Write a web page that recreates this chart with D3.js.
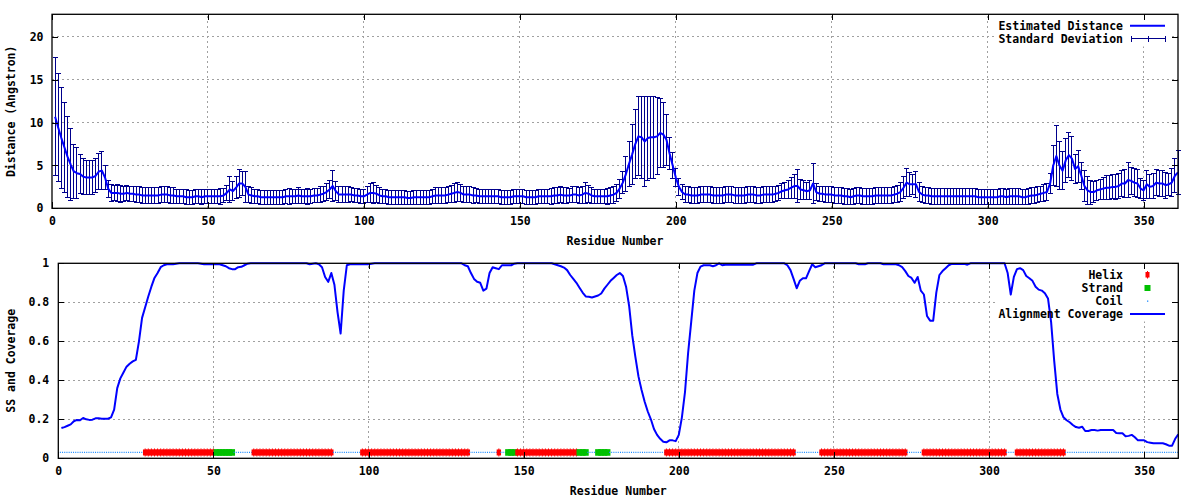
<!DOCTYPE html>
<html><head><meta charset="utf-8">
<script src="https://cdn.jsdelivr.net/npm/d3@7/dist/d3.min.js"></script>
<style>
body{margin:0;background:#fff}
text{font-family:"DejaVu Sans Mono","Liberation Mono",monospace;font-weight:bold;font-size:11.5px;fill:#000}
</style>
</head><body>
<svg id="c" width="1200" height="500"></svg>
<script>
// ---- data (residues 1..361) ----
const distance = [
10.7,9.4,8.2,7.1,6.0,5.1,4.3,4.1,4.0,3.7,
3.6,3.6,3.6,3.8,4.3,4.4,3.6,2.3,1.8,1.8,
1.8,1.7,1.7,1.8,1.7,1.7,1.6,1.6,1.5,1.5,
1.5,1.5,1.5,1.5,1.6,1.6,1.6,1.5,1.5,1.4,
1.4,1.4,1.3,1.3,1.3,1.4,1.4,1.3,1.4,1.4,
1.4,1.4,1.4,1.4,1.5,1.8,2.2,2.0,2.4,2.9,
2.9,2.5,1.6,1.5,1.4,1.4,1.3,1.3,1.3,1.3,
1.3,1.3,1.3,1.3,1.4,1.4,1.4,1.4,1.5,1.4,
1.4,1.4,1.4,1.5,1.5,1.6,1.7,1.9,2.2,2.6,
2.0,1.6,1.6,1.6,1.6,1.6,1.5,1.5,1.4,1.4,
1.6,1.8,1.8,1.7,1.5,1.4,1.4,1.3,1.3,1.3,
1.3,1.3,1.3,1.2,1.2,1.3,1.3,1.3,1.3,1.3,
1.3,1.4,1.5,1.5,1.5,1.5,1.6,1.7,1.8,1.9,
1.8,1.6,1.6,1.6,1.5,1.5,1.4,1.4,1.4,1.4,
1.4,1.4,1.4,1.3,1.3,1.3,1.3,1.4,1.4,1.4,
1.4,1.3,1.3,1.3,1.3,1.4,1.4,1.4,1.4,1.4,
1.5,1.5,1.6,1.5,1.5,1.5,1.6,1.6,1.5,1.6,
1.8,1.7,1.5,1.4,1.4,1.4,1.4,1.4,1.5,1.6,
1.8,2.3,3.0,4.0,5.2,6.3,7.5,8.4,8.3,7.8,
8.2,8.3,8.3,8.4,8.8,8.6,8.0,6.4,5.0,3.6,
2.5,1.9,1.6,1.6,1.5,1.5,1.5,1.6,1.6,1.6,
1.6,1.5,1.5,1.5,1.5,1.6,1.6,1.6,1.5,1.5,
1.5,1.5,1.6,1.6,1.6,1.5,1.5,1.6,1.6,1.6,
1.6,1.7,1.8,2.0,2.1,2.2,2.4,2.6,2.6,2.2,
2.1,2.0,2.1,2.9,1.9,1.7,1.7,1.6,1.6,1.6,
1.5,1.5,1.5,1.4,1.4,1.3,1.4,1.5,1.5,1.4,
1.4,1.4,1.4,1.5,1.5,1.5,1.5,1.5,1.5,1.6,
1.7,1.9,2.4,3.0,2.8,2.8,2.8,1.9,1.6,1.5,
1.5,1.4,1.4,1.4,1.4,1.4,1.4,1.4,1.4,1.4,
1.4,1.4,1.4,1.4,1.4,1.4,1.3,1.3,1.3,1.3,
1.3,1.3,1.3,1.4,1.4,1.3,1.4,1.4,1.4,1.4,
1.3,1.3,1.4,1.5,1.5,1.6,1.7,1.8,1.9,2.9,
5.0,6.1,5.0,4.4,5.6,6.2,5.8,4.6,4.9,3.8,
2.6,2.1,1.9,1.9,2.1,2.2,2.3,2.4,2.4,2.5,
2.5,2.6,2.9,2.9,3.3,3.2,3.0,2.9,2.3,2.1,
2.8,2.5,2.6,3.0,2.9,2.9,2.7,2.8,3.0,3.8,4.2
];
const stdDev = [
6.9,6.3,5.9,5.2,4.7,4.2,3.2,3.0,2.3,2.1,
2.0,2.0,2.0,2.0,2.1,2.2,1.4,1.0,1.0,0.9,
1.0,1.0,0.9,0.9,0.9,0.9,0.9,0.9,0.9,0.9,
0.9,0.9,0.9,0.9,0.9,0.9,0.9,0.9,0.9,0.8,
0.8,0.8,0.9,0.8,0.8,0.8,0.8,0.9,0.8,0.8,
0.8,0.8,0.8,0.9,0.8,0.9,1.5,1.1,1.3,1.6,
1.4,1.8,0.9,0.9,0.8,0.8,0.8,0.8,0.8,0.8,
0.8,0.8,0.8,0.8,0.8,0.9,0.8,0.8,0.9,0.8,
0.8,0.9,0.8,0.8,0.8,0.9,0.9,1.0,1.1,1.8,
1.1,0.9,0.9,0.9,0.9,0.8,0.8,0.8,0.8,0.8,
0.9,1.1,1.2,1.0,0.9,0.8,0.8,0.8,0.8,0.8,
0.8,0.8,0.8,0.8,0.8,0.8,0.8,0.8,0.8,0.8,
0.8,0.8,0.9,0.9,0.9,0.9,0.9,1.0,1.1,1.1,
1.0,0.9,0.9,0.9,0.9,0.8,0.8,0.8,0.8,0.8,
0.8,0.8,0.8,0.8,0.8,0.8,0.8,0.8,0.8,0.8,
0.8,0.8,0.8,0.8,0.8,0.8,0.8,0.8,0.8,0.9,
0.9,0.9,0.9,0.9,0.9,0.8,0.9,0.9,0.9,1.0,
1.2,1.0,0.9,0.8,0.8,0.8,0.8,0.9,0.9,1.0,
1.0,1.1,1.3,2.0,2.6,3.5,4.0,4.6,4.8,5.2,
4.9,4.8,4.8,4.5,4.0,3.8,3.0,1.9,1.5,1.0,
1.0,0.9,0.9,0.9,0.9,0.9,0.9,0.9,0.9,0.9,
0.9,0.9,0.9,0.9,0.9,0.9,0.9,0.9,0.9,0.9,
0.9,0.9,0.9,0.9,0.9,0.9,0.9,0.9,0.9,0.9,
0.9,0.9,0.9,0.9,0.9,1.0,1.2,1.4,1.9,1.2,
1.1,1.0,1.1,2.3,1.0,0.9,0.9,0.9,0.9,0.9,
0.9,0.9,0.9,0.9,0.9,0.9,0.9,0.9,0.9,0.9,
0.9,0.9,0.9,0.9,0.9,0.9,0.9,0.9,0.9,0.9,
1.0,1.1,1.3,1.6,1.4,1.2,1.5,1.1,0.9,0.9,
0.9,0.9,0.9,0.9,0.9,0.9,0.9,0.9,0.9,0.9,
0.9,0.9,0.9,0.9,0.9,0.9,0.9,0.9,0.9,0.9,
0.9,0.9,0.9,0.9,0.9,0.9,0.9,0.9,0.9,0.9,
0.9,0.9,0.9,0.9,0.9,0.9,0.9,1.0,1.0,1.2,
2.3,3.6,2.8,2.2,2.6,2.6,2.6,1.7,1.9,1.6,
1.8,1.6,1.4,1.2,1.2,1.2,1.3,1.4,1.4,1.4,
1.5,1.5,1.5,1.6,2.0,1.6,1.6,1.6,1.2,1.2,
1.6,1.4,1.5,1.5,1.5,1.5,1.5,1.3,1.6,2.0,2.6
];
const coverage = [
0.155,0.16,0.167,0.174,0.19,0.197,0.195,0.207,0.2,0.197,
0.198,0.205,0.205,0.203,0.203,0.203,0.21,0.25,0.36,0.41,
0.44,0.47,0.485,0.497,0.505,0.6,0.72,0.775,0.83,0.88,
0.925,0.95,0.98,0.99,0.995,0.995,0.995,0.998,1,1,
1,1,1,1,1,0.998,0.995,0.995,0.995,0.995,
0.995,0.995,0.99,0.985,0.975,0.97,0.97,0.98,0.982,0.99,
0.998,1,1,1,1,1,1,1,1,1,
1,1,1,1,1,1,1,1,1,1,
0.995,0.998,1,0.995,0.98,0.93,0.905,0.95,0.89,0.75,
0.64,0.86,0.99,0.995,0.995,0.995,0.995,0.995,0.995,0.995,
0.998,1,1,1,1,1,1,1,1,1,
1,1,1,1,1,1,1,1,1,1,
1,1,1,1,1,1,1,1,1,1,
0.99,0.985,0.95,0.92,0.905,0.9,0.86,0.87,0.95,0.98,
0.975,0.97,0.99,0.99,0.99,0.99,0.998,1,1,1,
1,1,1,1,1,1,1,1,1,0.995,
0.99,0.985,0.978,0.965,0.94,0.92,0.9,0.875,0.85,0.83,
0.828,0.825,0.83,0.835,0.845,0.87,0.89,0.91,0.925,0.94,
0.95,0.935,0.88,0.78,0.63,0.52,0.42,0.35,0.29,0.24,
0.2,0.15,0.12,0.1,0.085,0.082,0.092,0.092,0.088,0.12,
0.21,0.34,0.54,0.7,0.86,0.95,0.983,0.99,0.99,0.99,
0.985,0.99,1,0.99,0.993,0.993,0.993,0.993,0.993,0.993,
0.993,0.993,0.993,0.993,1,1,1,1,1,1,
1,1,1,1,0.99,0.965,0.92,0.872,0.91,0.923,
0.923,0.96,0.995,0.98,0.985,0.99,1,1,1,1,
1,1,1,1,1,1,1,0.995,0.995,0.995,
1,1,1,1,1,0.995,0.995,0.995,0.995,0.995,
0.99,0.98,0.96,0.935,0.925,0.9,0.93,0.86,0.84,0.73,
0.706,0.706,0.85,0.94,0.96,0.975,0.99,0.997,0.997,0.997,
0.997,0.997,0.993,1,1,1,1,1,1,1,
1,1,1,1,1,0.95,0.84,0.93,0.97,0.975,
0.965,0.935,0.923,0.91,0.88,0.865,0.86,0.846,0.82,0.7,
0.5,0.33,0.25,0.21,0.195,0.185,0.171,0.16,0.157,0.162,
0.14,0.14,0.145,0.145,0.142,0.145,0.145,0.145,0.145,0.145,
0.13,0.128,0.128,0.113,0.115,0.12,0.108,0.092,0.092,0.092,
0.083,0.08,0.077,0.077,0.077,0.077,0.072,0.065,0.065,0.1,0.123
];
// secondary structure: [type, first residue, last residue]
const ssSegments = [
["C",1,27],["H",28,50],["E",51,56],["C",57,62],["H",63,88],["C",89,97],
["H",98,132],["C",133,141],["H",142,142],["C",143,144],["E",145,147],
["H",148,167],["E",168,170],["C",171,173],["E",174,177],["C",178,195],
["H",196,237],["C",238,245],["H",246,273],["C",274,278],["H",279,305],
["C",306,308],["H",309,324],["C",325,361]
];
const ssLevel = 0.03;
const xTicks = [0,50,100,150,200,250,300,350];
const yTicksTop = [0,5,10,15,20];
const yTicksBottom = [0,0.2,0.4,0.6,0.8,1];
const yTickLabelsBottom = ["0","0.2","0.4","0.6","0.8","1"];
const xMax = 361, yMaxTop = 22.65;

// ---- drawing ----
const svg = d3.select("#c");
const residues = distance.map((d,i)=>i+1);
const T = {l:52, r:1178, t:14.3, b:208.3};
const B = {l:58.3, r:1178.3, t:263.3, b:458.3};
const xT = d3.scaleLinear([0,xMax],[T.l,T.r]);
const yT = d3.scaleLinear([0,yMaxTop],[T.b,T.t]);
const xB = d3.scaleLinear([0,xMax],[B.l,B.r]);
const yB = d3.scaleLinear([0,1],[B.b,B.t]);
const GRID = "#a0a0a0", BLUE = "#0000ff", NAVY = "#00008c";

function grid(g, x, y, P, xt, yt){
  const gg = g.append("g").attr("shape-rendering","crispEdges");
  gg.selectAll(null).data(xt.filter(v=>v>0)).join("line")
    .attr("x1",d=>x(d)).attr("x2",d=>x(d)).attr("y1",P.b).attr("y2",P.t)
    .attr("stroke",GRID).attr("stroke-dasharray","2,3").attr("stroke-width",1);
  gg.selectAll(null).data(yt.filter(v=>v>0 && y(v)>P.t+1)).join("line")
    .attr("x1",P.l).attr("x2",P.r).attr("y1",d=>y(d)).attr("y2",d=>y(d))
    .attr("stroke",GRID).attr("stroke-dasharray","2,3").attr("stroke-width",1);
}
function axes(g, x, y, P, xt, yt, yfmt, ypad){
  const ax = g.append("g").attr("transform",`translate(0,${P.b})`)
    .call(d3.axisBottom(x).tickValues(xt).tickSizeInner(-6).tickSizeOuter(0).tickPadding(9));
  const axT = g.append("g").attr("transform",`translate(0,${P.t})`)
    .call(d3.axisTop(x).tickValues(xt).tickSizeInner(-6).tickSizeOuter(0).tickFormat(""));
  const ay = g.append("g").attr("transform",`translate(${P.l},0)`)
    .call(d3.axisLeft(y).tickValues(yt).tickFormat(yfmt).tickSizeInner(-6).tickSizeOuter(0).tickPadding(ypad));
  const ayR = g.append("g").attr("transform",`translate(${P.r},0)`)
    .call(d3.axisRight(y).tickValues(yt).tickSizeInner(-6).tickSizeOuter(0).tickFormat(""));
  [ax,axT,ay,ayR].forEach(a=>{
    a.select(".domain").remove();
    a.selectAll("line").attr("stroke","#000").attr("shape-rendering","crispEdges");
    a.selectAll("text").attr("fill","#000").attr("font-family",null).attr("font-size",null);
  });
  g.append("rect").attr("x",P.l).attr("y",P.t).attr("width",P.r-P.l).attr("height",P.b-P.t)
    .attr("fill","none").attr("stroke","#000").attr("stroke-width",1.3);
}

// ===== top panel =====
const gT = svg.append("g");
grid(gT, xT, yT, T, xTicks, yTicksTop);
gT.append("rect").attr("x",995).attr("y",T.t+1).attr("width",1171-995).attr("height",46.5-T.t-1).attr("fill","#fff");
const bars = gT.append("g").attr("stroke",NAVY).attr("stroke-width",1).attr("shape-rendering","crispEdges");
residues.forEach((r,i)=>{
  const x = xT(r), lo = yT(distance[i]-stdDev[i]), hi = yT(distance[i]+stdDev[i]);
  bars.append("line").attr("x1",x).attr("x2",x).attr("y1",lo).attr("y2",hi);
  bars.append("line").attr("x1",x-2.5).attr("x2",x+2.5).attr("y1",lo).attr("y2",lo);
  bars.append("line").attr("x1",x-2.5).attr("x2",x+2.5).attr("y1",hi).attr("y2",hi);
});
gT.append("path").datum(residues)
  .attr("d", d3.line().x(r=>xT(r)).y((r,i)=>yT(distance[i])))
  .attr("fill","none").attr("stroke",BLUE).attr("stroke-width",2).attr("stroke-linejoin","round");
axes(gT, xT, yT, T, xTicks, yTicksTop, d3.format("d"), 8.5);
gT.append("text").attr("x",(T.l+T.r)/2).attr("y",244.5).attr("text-anchor","middle").text("Residue Number");
gT.append("text").attr("transform",`translate(14.5,${(T.t+T.b)/2}) rotate(-90)`).attr("text-anchor","middle").text("Distance (Angstron)");
// legend
gT.append("text").attr("x",1123).attr("y",30).attr("text-anchor","end").text("Estimated Distance");
gT.append("line").attr("x1",1130).attr("x2",1165).attr("y1",25.7).attr("y2",25.7).attr("stroke",BLUE).attr("stroke-width",2);
gT.append("text").attr("x",1123).attr("y",43).attr("text-anchor","end").text("Standard Deviation");
const lg = gT.append("g").attr("stroke",NAVY).attr("stroke-width",1).attr("shape-rendering","crispEdges");
lg.append("line").attr("x1",1131).attr("x2",1165).attr("y1",38.7).attr("y2",38.7);
[1131,1148,1165].forEach(x=>lg.append("line").attr("x1",x).attr("x2",x).attr("y1",36).attr("y2",41.5));

// ===== bottom panel =====
const gB = svg.append("g");
grid(gB, xB, yB, B, xTicks, yTicksBottom);
gB.append("rect").attr("x",995).attr("y",B.t+1).attr("width",1171-995).attr("height",321.5-B.t-1).attr("fill","#fff");
const ssG = gB.append("g");
const yS = yB(ssLevel);
ssSegments.forEach(([t,a,b])=>{
  const rs = d3.range(a,b+1);
  if(t==="C"){
    ssG.append("line").attr("x1",xB(a-0.5)).attr("x2",xB(Math.min(b+0.5,xMax))).attr("y1",yS).attr("y2",yS)
      .attr("stroke","#1e8cff").attr("stroke-width",1.2).attr("stroke-dasharray","1,1.2");
  } else if(t==="H"){
    rs.forEach(r=>{
      ssG.append("rect").attr("x",xB(r)-2.2).attr("y",yS-3).attr("width",4.4).attr("height",6).attr("fill","#ff0000");
      ssG.append("rect").attr("x",xB(r)-0.5).attr("y",yS-4).attr("width",1).attr("height",8).attr("fill","#ff0000");
    });
  } else {
    rs.forEach(r=>{
      ssG.append("rect").attr("x",xB(r)-3).attr("y",yS-3.3).attr("width",6).attr("height",6.6).attr("fill","#00c000");
    });
  }
});
gB.append("path").datum(residues)
  .attr("d", d3.line().x(r=>xB(r)).y((r,i)=>yB(coverage[i])))
  .attr("fill","none").attr("stroke",BLUE).attr("stroke-width",2).attr("stroke-linejoin","round");
axes(gB, xB, yB, B, xTicks, yTicksBottom, (d,i)=>yTickLabelsBottom[i], 9);
gB.append("text").attr("x",(B.l+B.r)/2).attr("y",495).attr("text-anchor","middle").text("Residue Number");
gB.append("text").attr("transform",`translate(14.5,${(B.t+B.b)/2}) rotate(-90)`).attr("text-anchor","middle").text("SS and Coverage");
// legend
const legRows = [["Helix",275],["Strand",288],["Coil",301],["Alignment Coverage",314]];
legRows.forEach(([t,y])=>gB.append("text").attr("x",1123).attr("y",y+4).attr("text-anchor","end").text(t));
gB.append("rect").attr("x",1145.5).attr("y",272).attr("width",4).attr("height",5.5).attr("fill","#ff0000");
gB.append("rect").attr("x",1147).attr("y",271).attr("width",1).attr("height",7.5).attr("fill","#ff0000");
gB.append("rect").attr("x",1144.5).attr("y",285).attr("width",6).attr("height",6).attr("fill","#00c000");
gB.append("rect").attr("x",1147).attr("y",300.5).attr("width",1.3).attr("height",1.3).attr("fill","#1e8cff");
gB.append("line").attr("x1",1130).attr("x2",1165).attr("y1",314).attr("y2",314).attr("stroke",BLUE).attr("stroke-width",2);
</script>
</body></html>
